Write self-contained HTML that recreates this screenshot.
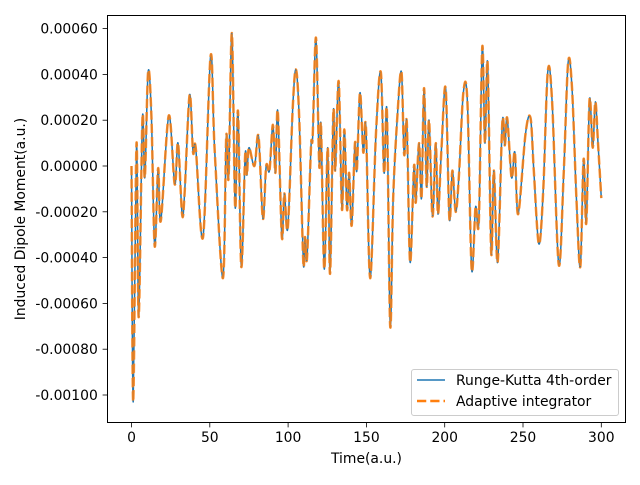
<!DOCTYPE html>
<html><head><meta charset="utf-8"><style>
body{margin:0;background:#fff;}
svg text{font-family:"DejaVu Sans","Liberation Sans",sans-serif;font-size:13.9px;fill:#000;}
</style></head><body>
<svg id="chart" width="640" height="480" xmlns="http://www.w3.org/2000/svg">
<rect x="0" y="0" width="640" height="480" fill="#fff"/>
<g id="plot"></g>
<g id="axes"></g>
</svg>
<script>
// time (a.u.) and dipole (units of 1e-4 a.u.) at turning points
const times = [0,1.1,3.2,4.6,7.0,8.5,10.6,12.7,14.8,17.0,18.7,23.8,27.6,29.7,32.3,33.9,37.1,39.3,41.0,45.7,50.5,53.1,58.4,60.5,62.0,64.1,66.2,68.0,70.1,72.6,73.7,75.0,78.5,81.1,83.9,86.0,88.1,90.3,91.9,93.4,96.0,97.6,99.8,103.0,105.1,107.2,109.7,110.8,112.1,114.6,115.7,117.8,119.9,121.0,123.1,125.3,126.8,128.9,130.1,132.3,134.4,135.9,137.6,139.0,140.6,142.7,143.9,145.9,148.0,149.7,152.4,156.1,159.2,161.3,163.1,165.2,167.1,169.9,172.4,174.1,175.8,177.9,180.4,181.5,183.6,185.2,186.8,188.5,190.0,192.2,194.3,195.7,197.9,200.6,203.0,204.9,207.0,209.1,211.9,214.5,217.2,219.7,221.8,224.0,225.7,227.4,229.7,231.4,233.8,236.8,238.4,239.9,242.7,244.8,246.9,251.6,254.8,256.9,260.1,262.9,265.8,268.6,272.8,276.0,278.8,281.3,284.1,286.6,288.7,290.4,292.5,294.5,296.2,297.9,300.0];
const dipole = [0,-10.3,1.0,-6.6,2.1,-0.5,4.1,2.2,-3.5,-0.1,-2.4,2.2,-0.8,1.0,-2.1,-1.2,3.1,0.6,0.8,-3.1,4.8,0.7,-4.9,1.3,-0.5,5.8,-1.8,2.4,-4.4,0.5,-0.4,0.8,0.0,1.3,-2.3,0.0,-0.2,1.8,-0.3,2.4,-3.1,-1.2,-2.7,2.6,4.2,1.9,-4.2,-3.1,-4.0,0.8,1.3,5.6,0.0,1.8,-4.5,0.8,-4.7,2.4,-0.2,3.7,-1.9,1.6,-1.9,-0.3,-2.6,1.0,-0.2,3.2,0.6,1.7,-4.9,1.4,4.1,-0.3,2.4,-7.0,-1.4,2.3,4.1,0.5,1.9,-4.2,0.0,-1.6,1.0,-1.4,3.4,-0.9,2.0,-2.2,1.0,-2.1,0.7,3.4,-2.3,-0.2,-2.0,-0.4,3.2,2.8,-4.5,-1.8,-2.4,5.2,1.0,4.5,-3.8,-0.2,-4.2,1.9,0.9,2.1,-0.5,0.6,-2.1,1.4,2.1,-0.2,-3.4,-1.1,4.1,2.8,-4.3,-0.3,4.5,3.4,-1.4,-4.4,0.3,-2.5,2.9,0.8,2.8,1.0,-1.4];
const xTicks = [0,50,100,150,200,250,300];
const yTicks = [-10,-8,-6,-4,-2,0,2,4,6];
const yTickLabels = ["-0.00100","-0.00080","-0.00060","-0.00040","-0.00020","0.00000","0.00020","0.00040","0.00060"];

const NS="http://www.w3.org/2000/svg";
const L=107.5,R=625.5,T=15.5,B=422.5;
function sx(t){return 131.5+t*(601.3-131.5)/300;}
function sy(v){return 166-v*22.9;}
function mk(tag,attrs,parent){const e=document.createElementNS(NS,tag);for(const k in attrs)e.setAttribute(k,attrs[k]);parent.appendChild(e);return e;}
const plot=document.getElementById('plot'), axes=document.getElementById('axes');

function pathD(){
  const p=times.map((t,i)=>[sx(t),sy(dipole[i])]);
  let d='M'+p[0][0].toFixed(2)+','+p[0][1].toFixed(2);
  for(let i=0;i<p.length-1;i++){
    const p0=p[i-1]||p[i],p1=p[i],p2=p[i+1],p3=p[i+2]||p[i+1];
    const c1=[p1[0]+(p2[0]-p0[0])/6,p1[1]+(p2[1]-p0[1])/6];
    const c2=[p2[0]-(p3[0]-p1[0])/6,p2[1]-(p3[1]-p1[1])/6];
    d+=' C'+c1[0].toFixed(2)+','+c1[1].toFixed(2)+' '+c2[0].toFixed(2)+','+c2[1].toFixed(2)+' '+p2[0].toFixed(2)+','+p2[1].toFixed(2);
  }
  return d;
}
const d=pathD();
const rk=mk('path',{d:d,fill:'none',stroke:'#1f77b4','stroke-width':1.5},plot);


const ad=mk('path',{d:d,fill:'none',stroke:'#ff7f0e','stroke-width':2.5,'stroke-dasharray':'9.25,4','stroke-opacity':0.85},plot);



const frame=mk('rect',{x:L,y:T,width:R-L,height:B-T,fill:'none',stroke:'#000','stroke-width':1},axes);


xTicks.forEach(t=>{
  const x=sx(t);
  mk('line',{x1:x,y1:B,x2:x,y2:B+4.9,stroke:'#000','stroke-width':0.8},axes);
  const tx=mk('text',{x:x,y:B+19.5,'text-anchor':'middle'},axes);tx.textContent=t;
  
  
});
yTicks.forEach((v,i)=>{
  const y=sy(v);
  mk('line',{x1:L-4.9,y1:y,x2:L,y2:y,stroke:'#000','stroke-width':0.8},axes);
  const tx=mk('text',{x:L-9.7,y:y+5,'text-anchor':'end'},axes);tx.textContent=yTickLabels[i];
  
  
});
const xl=mk('text',{x:(L+R)/2,y:463,'text-anchor':'middle'},axes);xl.textContent='Time(a.u.)';


const yl=mk('text',{x:0,y:0,'text-anchor':'middle',transform:'translate(25,'+((T+B)/2)+') rotate(-90)'},axes);yl.textContent='Induced Dipole Moment(a.u.)';



const lg=mk('g',{},axes);


mk('rect',{x:411.5,y:369.5,width:207,height:46,rx:2.5,fill:'#fff','fill-opacity':0.8,stroke:'#ccc','stroke-width':1},lg);
mk('line',{x1:417,y1:380,x2:445,y2:380,stroke:'#1f77b4','stroke-width':1.5},lg);
const t1=mk('text',{x:456,y:385},lg);t1.textContent='Runge-Kutta 4th-order';


mk('line',{x1:417,y1:401,x2:445,y2:401,stroke:'#ff7f0e','stroke-width':2.5,'stroke-dasharray':'9.25,4'},lg);
const t2=mk('text',{x:456,y:406},lg);t2.textContent='Adaptive integrator';


</script>
</body></html>
